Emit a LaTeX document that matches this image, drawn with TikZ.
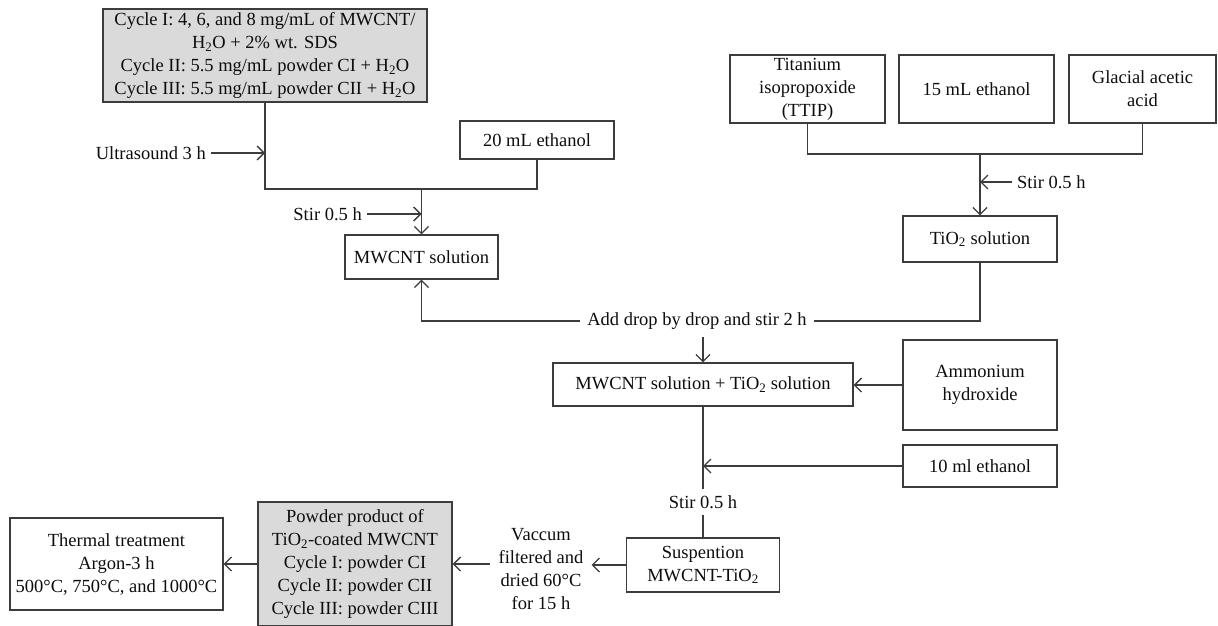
\documentclass[tikz,border=0pt]{standalone}
\usepackage{fontspec}
\setmainfont{Liberation Serif}
\usetikzlibrary{arrows.meta,positioning,calc}
\definecolor{boxgray}{RGB}{218,218,218}
\definecolor{linegray}{RGB}{60,60,60}
\newcommand{\sub}[1]{\textsubscript{#1}}

\begin{document}
\begin{tikzpicture}[
    x=1pt, y=-1pt,
    every node/.style={font=\fontsize{18.5}{23}\selectfont, text=black!95},
    box/.style={draw=linegray, line width=1.3pt, align=center, inner sep=0pt},
    graybox/.style={box, fill=boxgray},
    lbl/.style={align=center, inner sep=5pt},
    link/.style={draw=linegray, line width=1.3pt},
    arr/.style={link, -{Straight Barb[length=7pt,width=14pt]}}
]
\useasboundingbox (0,0) rectangle (1218,626);

% MWCNT branch
\node[graybox, minimum width=324pt, minimum height=93pt] (cyc) at (265,55.5)
  {Cycle I: 4, 6, and 8 mg/mL of MWCNT/\\H\sub{2}O + 2\% wt. SDS\\Cycle II: 5.5 mg/mL powder CI + H\sub{2}O\\Cycle III: 5.5 mg/mL powder CII + H\sub{2}O};
\node[box, minimum width=154pt, minimum height=38pt] (eth20) at (537,140) {20 mL ethanol};
\node[box, minimum width=153pt, minimum height=44pt] (mwsol) at (421.5,257) {MWCNT solution};
\node[lbl, anchor=east] (us) at (211,153) {Ultrasound 3 h};
\node[lbl, anchor=east] (stirL) at (367,214) {Stir 0.5 h};
\coordinate (jm) at (421.5,189);

% TiO2 branch
\node[box, minimum width=155pt, minimum height=68pt] (ttip) at (807.5,89) {Titanium\\isopropoxide\\(TTIP)};
\node[box, minimum width=155pt, minimum height=68pt] (eth15) at (976.5,89) {15 mL ethanol};
\node[box, minimum width=147pt, minimum height=68pt] (gaa) at (1142.5,89) {Glacial acetic\\acid};
\node[box, minimum width=154pt, minimum height=46pt] (tisol) at (980,239) {TiO\sub{2} solution};
\node[lbl, anchor=west] (stirR) at (1012,182) {Stir 0.5 h};
\coordinate (jt) at (980,154);

% mixing
\node[lbl, inner sep=7pt] (add) at (697,321) {Add drop by drop and stir 2 h};
\node[box, minimum width=300pt, minimum height=43pt] (mix) at (703,384.5) {MWCNT solution + TiO\sub{2} solution};
\node[box, minimum width=154pt, minimum height=90pt] (amm) at (980,385) {Ammonium\\hydroxide};
\node[box, minimum width=154pt, minimum height=42pt] (eth10) at (980,466) {10 ml ethanol};
\node[lbl, inner sep=6pt] (stir3) at (703,502) {Stir 0.5 h};
\node[box, minimum width=153pt, minimum height=54pt] (susp) at (703,565) {Suspention\\MWCNT-TiO\sub{2}};

% product
\node[lbl, inner sep=8pt] (vac) at (541,569) {Vaccum\\filtered and\\dried 60°C\\for 15 h};
\node[graybox, minimum width=194pt, minimum height=124pt] (powder) at (355,564)
  {Powder product of\\TiO\sub{2}-coated MWCNT\\Cycle I: powder CI\\Cycle II: powder CII\\Cycle III: powder CIII};
\node[box, minimum width=213pt, minimum height=92pt] (therm) at (116.5,564)
  {Thermal treatment\\Argon-3 h\\500°C, 750°C, and 1000°C};

% connectors
\draw[link] (cyc.south) |- (jm) -| (eth20.south);
\draw[arr] (jm) -- (mwsol.north);
\draw[arr] (us.east) -- (us.east -| cyc.south);
\draw[arr] (stirL.east) -- (stirL.east -| mwsol.north);

\draw[link] (ttip.south) |- (jt) -| (gaa.south);
\draw[arr] (jt) -- (tisol.north);
\draw[arr] (stirR.west) -- (stirR.west -| tisol.north);

\draw[arr] (add.west) -| (mwsol.south);
\draw[link] (tisol.south) |- (add.east);
\draw[arr] (mix.north |- add.south) -- (mix.north);
\draw[arr] (amm.west) -- (amm.west -| mix.east);

\draw[link] (mix.south) -- (stir3.north);
\draw[link] (stir3.south) -- (susp.north);
\draw[arr] (eth10.west) -- (eth10.west -| mix.south);

\draw[arr] (susp.west) -- (susp.west -| vac.east);
\draw[arr] (vac.west |- powder.east) -- (powder.east);
\draw[arr] (powder.west) -- (therm.east);
\end{tikzpicture}
\end{document}
